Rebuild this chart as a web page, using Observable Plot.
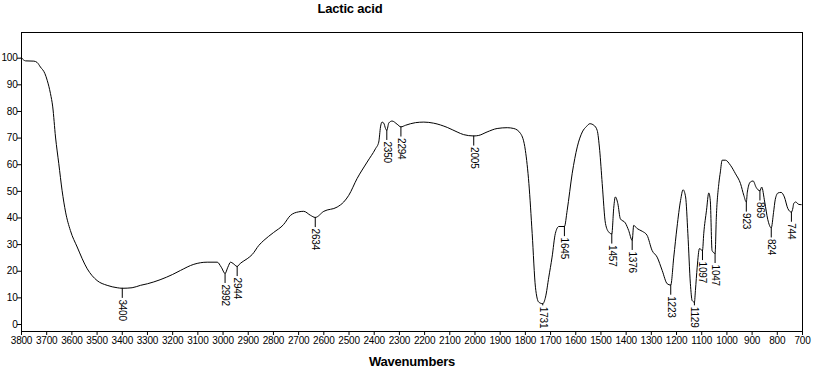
<!DOCTYPE html>
<html><head><meta charset="utf-8">
<script src="https://cdn.jsdelivr.net/npm/d3@7"></script>
<script src="https://cdn.jsdelivr.net/npm/@observablehq/plot@0.6"></script>
<style>body{margin:0;background:#fff}</style>
</head><body><div id="chart"></div>
<script>
const wavenumbers = [3800,3784,3751,3738,3725,3707,3698,3685,3676,3665,3652,3639,3625,3606,3579,3539,3500,3460,3420,3400,3361,3328,3300,3250,3200,3169,3116,3063,3023,3007,2992,2981,2970,2960,2944,2931,2904,2884,2858,2838,2800,2760,2732,2700,2680,2653,2634,2600,2547,2521,2501,2468,2428,2395,2382,2375,2369,2362,2355,2350,2342,2329,2309,2294,2276,2236,2203,2164,2110,2071,2045,2005,1985,1952,1912,1872,1846,1819,1800,1786,1773,1760,1747,1731,1720,1707,1694,1681,1667,1645,1634,1614,1594,1574,1557,1544,1528,1515,1505,1495,1482,1469,1457,1449,1443,1433,1423,1403,1390,1376,1370,1356,1336,1317,1297,1277,1257,1237,1223,1211,1198,1184,1174,1164,1155,1145,1138,1129,1125,1118,1109,1097,1092,1081,1072,1066,1059,1047,1042,1032,1026,1019,1006,986,966,946,933,923,919,907,896,884,869,862,850,838,824,815,808,797,785,772,758,744,738,735,727,715,705];
const transmittance = [100.1,99.0,98.9,98.4,96.7,94.2,91.7,86.7,81.7,70.4,60.4,50.4,42.2,35.3,29.1,20.9,16.5,14.7,13.8,13.6,13.8,14.7,15.3,16.8,18.8,20.3,22.6,23.4,23.4,21.5,19.2,21.5,23.4,22.9,21.8,23.0,24.7,26.3,29.7,31.6,34.5,37.5,41.0,42.3,42.5,41.0,40.2,42.5,44.1,46.0,48.5,54.8,61.0,66.0,68.5,74.2,76.0,75.6,73.6,72.9,75.7,76.4,75.2,74.2,74.8,75.8,76.0,75.6,74.0,72.3,71.3,70.8,71.0,72.3,73.6,73.9,73.6,71.7,65.4,52.9,34.2,14.0,8.4,7.8,10.3,17.8,25.3,34.2,36.8,36.8,42.9,56.8,66.7,72.3,74.4,75.4,74.8,72.9,65.4,52.9,37.9,34.7,34.0,44.1,47.9,45.4,39.7,38.1,35.3,31.6,37.2,36.0,35.0,33.5,27.8,25.3,20.3,15.3,14.8,25.3,36.6,46.6,50.6,47.9,34.1,15.3,9.0,8.4,12.8,21.5,28.5,27.8,34.1,42.9,49.4,46.6,27.8,26.7,40.3,53.0,57.3,61.7,61.7,59.8,56.6,52.9,48.5,46.0,49.7,53.5,53.9,51.5,50.2,51.6,46.0,39.5,36.3,42.0,47.0,49.4,49.6,47.9,43.5,42.2,43.8,45.4,46.0,45.1,45.0];
const peakWavenumbers = [3400,2992,2944,2634,2350,2294,2005,1731,1645,1457,1376,1223,1129,1097,1047,923,869,824,744];
const peakTransmittance = [13.6,19.2,21.8,40.2,72.9,74.2,70.8,7.8,36.8,34.0,31.6,14.8,8.4,27.8,26.7,46.0,50.2,36.3,42.2];
const peakLabels = ["3400","2992","2944","2634","2350","2294","2005","1731","1645","1457","1376","1223","1129","1097","1047","923","869","824","744"];
const xTicks = [3800,3700,3600,3500,3400,3300,3200,3100,3000,2900,2800,2700,2600,2500,2400,2300,2200,2100,2000,1900,1800,1700,1600,1500,1400,1300,1200,1100,1000,900,800,700];
const yTicks = [0,10,20,30,40,50,60,70,80,90,100];
const titleText = "Lactic acid";
const xLabelText = "Wavenumbers";

const spectrum = wavenumbers.map((w, i) => ({wn: w, t: transmittance[i]}));
// label start: 3.8 units below the dip, but never lower than 7 (keeps text inside the frame)
const peaks = peakWavenumbers.map((w, i) => ({
  wn: w, t: peakTransmittance[i], label: peakLabels[i],
  s: Math.max(peakTransmittance[i] - 3.8, 7.0)
}));

const font = "'Liberation Sans', Arial, sans-serif";
const chart = Plot.plot({
  width: 815, height: 381,
  marginLeft: 21, marginRight: 13, marginTop: 32, marginBottom: 50,
  x: {domain: [3800, 700]},
  y: {domain: [-2.63, 109.65]},
  style: {fontFamily: font, fontSize: "10px", color: "black", background: "white", letterSpacing: "-0.2px"},
  marks: [
    Plot.frame({stroke: "black"}),
    Plot.axisX({ticks: xTicks, tickSize: 4, tickPadding: 1, tickFormat: "d", label: null}),
    Plot.axisY({ticks: yTicks, tickSize: 4, tickPadding: 0, tickFormat: "d", label: null}),
    Plot.line(spectrum, {x: "wn", y: "t", stroke: "black", strokeWidth: 1, curve: "monotone-x"}),
    Plot.ruleX(peaks, {x: "wn", y1: "t", y2: "s", stroke: "black", strokeWidth: 1}),
    Plot.text(peaks, {x: "wn", y: "s", text: "label", rotate: 90, textAnchor: "start", lineAnchor: "middle", dy: 1, fontSize: 10, fill: "black"}),
    Plot.text([titleText], {frameAnchor: "top", dx: -62, dy: -20, lineAnchor: "bottom", fontWeight: "bold", fontSize: 13, fill: "black"}),
    Plot.text([xLabelText], {frameAnchor: "bottom", dy: 34, lineAnchor: "bottom", fontWeight: "bold", fontSize: 13, fill: "black"})
  ]
});
document.getElementById("chart").appendChild(chart);
</script>
</body></html>
